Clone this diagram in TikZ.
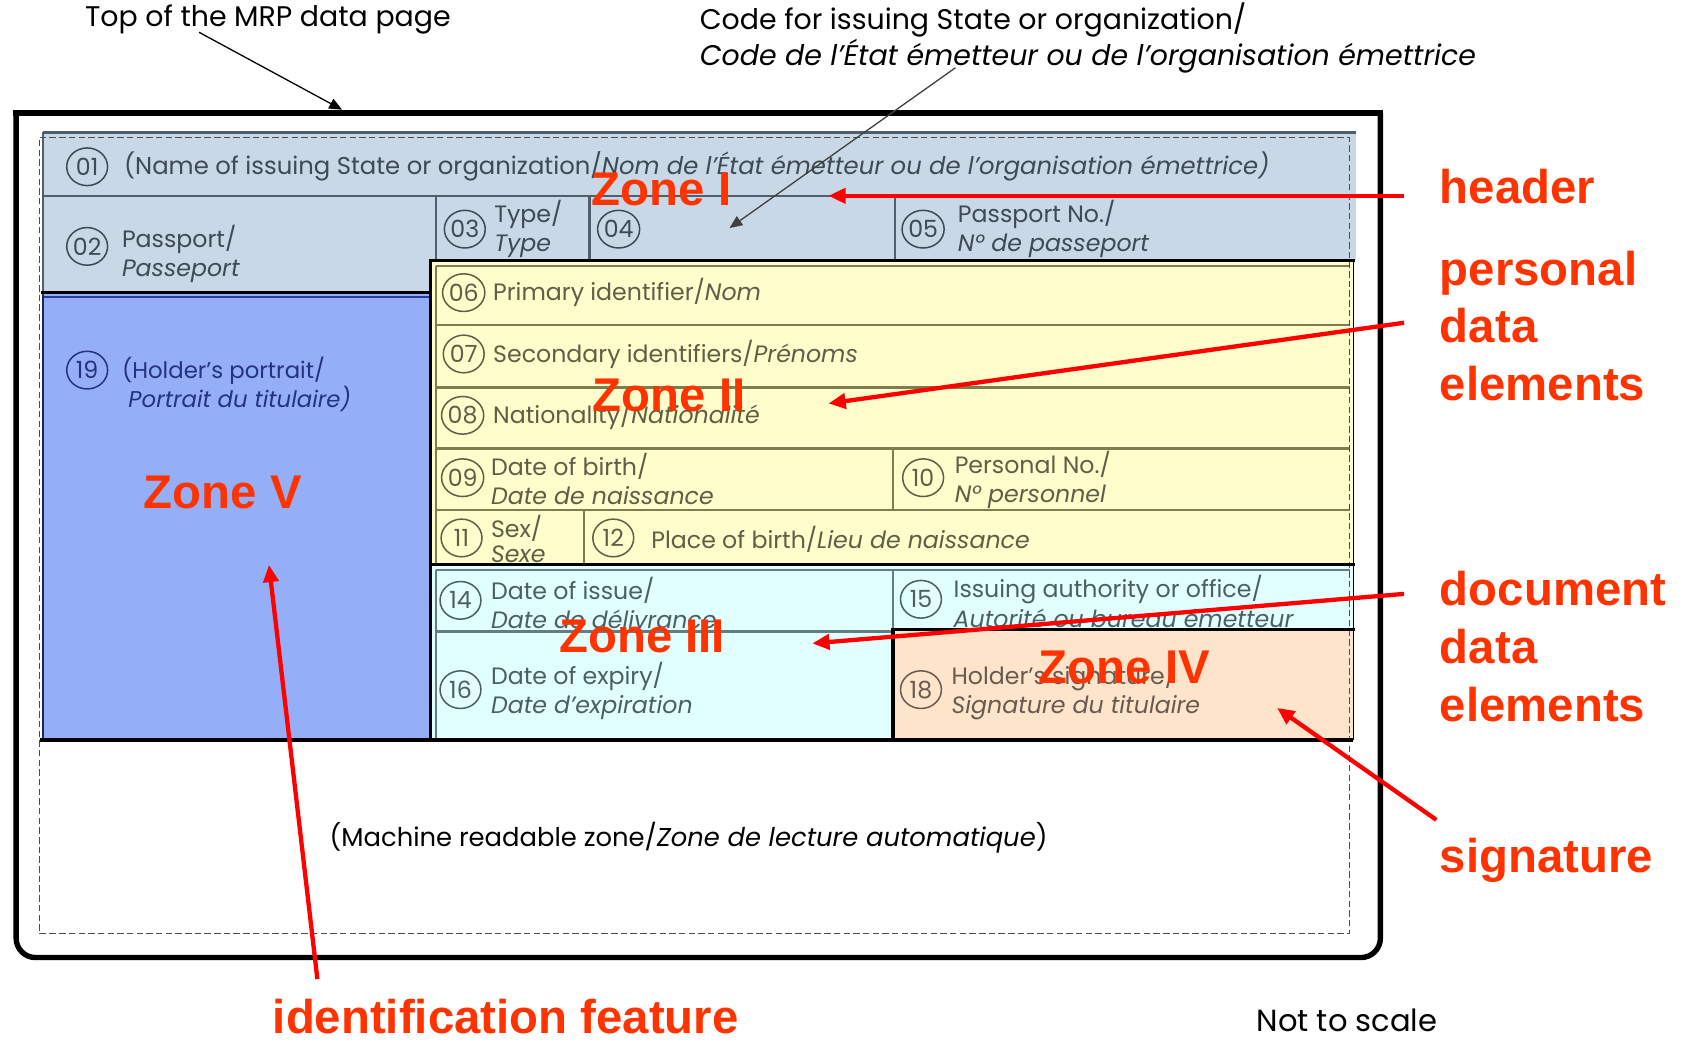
\documentclass[tikz,border=0pt]{standalone}
\usepackage{fontspec}
\usepackage{graphicx}
\setmainfont{Poppins}
\newfontfamily\redfont{Liberation Sans}
\usetikzlibrary{shapes.geometric,arrows.meta}
\definecolor{zred}{RGB}{255,51,0}
\definecolor{arrred}{RGB}{255,0,0}
\definecolor{zoneI}{RGB}{200,216,230}
\definecolor{zoneII}{RGB}{255,253,203}
\definecolor{zoneIII}{RGB}{226,255,255}
\definecolor{zoneIV}{RGB}{255,228,204}
\definecolor{zoneV}{RGB}{148,175,248}
\definecolor{tI}{RGB}{62,74,86}
\definecolor{tII}{RGB}{95,95,70}
\definecolor{tIII}{RGB}{75,95,100}
\definecolor{tIV}{RGB}{105,90,80}
\definecolor{tV}{RGB}{35,50,130}
\definecolor{lI}{RGB}{80,95,108}
\definecolor{lII}{RGB}{125,125,80}
\definecolor{lIII}{RGB}{100,125,128}
\definecolor{lV}{RGB}{40,60,160}
\begin{document}
\begin{tikzpicture}[x=0.5pt,y=-0.5pt,
  cell/.style={anchor=west,align=left,inner sep=0pt,font=\fontsize{11}{13.5}\selectfont},
  num/.style={draw,ellipse,minimum width=19pt,minimum height=17.5pt,inner sep=0pt,line width=0.7pt,font=\fontsize{11}{12}\selectfont},
  zonelbl/.style={text=zred,inner sep=0pt,font=\redfont\bfseries\fontsize{22}{24}\selectfont},
  redlbl/.style={text=zred,anchor=west,align=left,inner sep=0pt,font=\redfont\bfseries\fontsize{22}{26.75}\selectfont},
  redarrow/.style={draw=arrred,line width=2pt,-{Triangle[length=8pt,width=7pt]}},
  blkarrow/.style={line width=0.6pt,-{Triangle[length=6pt,width=5pt]}},
  note/.style={inner sep=0pt,font=\fontsize{13.2}{15}\selectfont},
  thinline/.style={line width=1.1pt},
  zoneline/.style={line width=1.5pt,black,line cap=rect}
]
\useasboundingbox (0,0) rectangle (1568,969);
% fills
\fill[zoneI] (40,123) rectangle (1260,242);
\fill[zoneI] (40,182) rectangle (405,272);
\fill[zoneV] (40,272) rectangle (400,688);
\fill[zoneII] (400,242) rectangle (1258,525);
\fill[zoneIII] (400,525) rectangle (1258,688);
\fill[zoneIV] (830,585) rectangle (1258,688);
% header lines
\draw[thinline,lI] (40,123) -- (1260,123);
\draw[thinline,lI] (40,182) -- (1258,182);
\draw[thinline,lI] (405,182) -- (405,242);
\draw[thinline,lI] (548,182) -- (548,242);
\draw[thinline,lI] (832,182) -- (832,242);
\draw[thinline,lI] (40,123) -- (40,272);
% zone II lines
\draw[thinline,lII] (405,247) -- (1255,247);
\draw[thinline,lII] (405,247) -- (405,525);
\draw[thinline,lII] (405,302) -- (1255,302);
\draw[thinline,lII] (405,360) -- (1255,360);
\draw[thinline,lII] (405,417) -- (1255,417);
\draw[thinline,lII] (405,474) -- (1255,474);
\draw[thinline,lII] (830,417) -- (830,474);
\draw[thinline,lII] (543,474) -- (543,525);
% zone III lines
\draw[thinline,lIII] (405,530) -- (1255,530);
\draw[thinline,lIII] (405,530) -- (405,688);
\draw[thinline,lIII] (405,587) -- (830,587);
\draw[thinline,lIII] (830,530) -- (830,688);
% zone V line
\draw[line width=1pt,lV] (40,276) -- (400,276);
\draw[line width=0.8pt,lV!60!black] (40,272) -- (40,688);
% dashed inner outline
\draw[line width=0.4pt,gray!60!black,dash pattern=on 3pt off 1.5pt] (37,128) -- (1254,128) -- (1254,868) -- (37,868) -- cycle;
% black zone boundaries
\draw[zoneline] (400,242) -- (1258,242);
\draw[zoneline] (400,242) -- (400,688);
\draw[zoneline] (40,272) -- (400,272);
\draw[zoneline] (400,525) -- (1258,525);
\draw[zoneline] (830,585) -- (1258,585);
\draw[zoneline] (830,585) -- (830,688);
\draw[line width=0.8pt] (1258,242) -- (1258,688);
\draw[line width=2pt] (37,688) -- (1258,688);
% outer border
\draw[line width=2.5pt,rounded corners=9pt] (15,105) -- (15,890) -- (1283,890) -- (1283,105);
\draw[line width=2.5pt,line cap=rect] (15,105) -- (1283,105);
% texts: header / zone I
\node[num,tI] (n01) at (81,155) {01};
\node[cell,text=tI,font=\fontsize{11.3}{13.5}\selectfont] (t01) at (115,155) {(Name of issuing State or organization/\textit{Nom de l’État émetteur ou de l’organisation émettrice)}};
\node[num,tI] (n02) at (81,229) {02};
\node[cell,text=tI] (t02) at (113,236) {Passport/\\\textit{Passeport}};
\node[num,tI] (n03) at (432,213) {03};
\node[cell,text=tI] (t03) at (459,213) {Type/\\\textit{Type}};
\node[num,tI] (n04) at (575,213) {04};
\node[num,tI] (n05) at (858,213) {05};
\node[cell,text=tI] (t05) at (890,213) {Passport No./\\\textit{N° de passeport}};
% zone II
\node[num,tII] (n06) at (431,272) {06};
\node[cell,text=tII] (t06) at (458,272) {Primary identifier/\textit{Nom}};
\node[num,tII] (n07) at (431,329) {07};
\node[cell,text=tII] (t07) at (458,329) {Secondary identifiers/\textit{Prénoms}};
\node[num,tII] (n08) at (430,386) {08};
\node[cell,text=tII] (t08) at (458,386) {Nationality/\textit{Nationalité}};
\node[num,tII] (n09) at (430,444) {09};
\node[cell,text=tII] (t09) at (456,445) {Date of birth/\\\textit{Date de naissance}};
\node[num,tII] (n10) at (858,444) {10};
\node[cell,text=tII] (t10) at (887,446) {Personal No./\\\textit{N° personnel}};
\node[num,tII] (n11) at (429,500) {11};
\node[cell,text=tII] (t11) at (456,501) {Sex/\\[-1.5pt]\textit{Sexe}};
\node[num,tII] (n12) at (570,500) {12};
\node[cell,text=tII] (t12) at (605,501) {Place of birth/\textit{Lieu de naissance}};
% zone III
\node[num,tIII] (n14) at (428,558) {14};
\node[cell,text=tIII] (t14) at (456,560) {Date of issue/\\\textit{Date de délivrance}};
\node[num,tIII] (n15) at (856,557) {15};
\node[cell,text=tIII] (t15) at (886,559) {Issuing authority or office/\\\textit{Autorité ou bureau émetteur}};
\node[num,tIII] (n16) at (428,641) {16};
\node[cell,text=tIII] (t16) at (456,642) {Date of expiry/\\\textit{Date d’expiration}};
% zone IV
\node[num,tIV] (n18) at (856,641) {18};
\node[cell,text=tIV] (t18) at (884,642) {Holder’s signature/\\\textit{Signature du titulaire}};
% zone V
\node[num,tV] (n19) at (81,344) {19};
\node[cell,text=tV,font=\fontsize{10.6}{13.5}\selectfont] (t19) at (113,357) {(Holder’s portrait/\\\hspace{3pt}\textit{Portrait du titulaire)}};
% MRZ
\node[cell,anchor=center,font=\fontsize{12}{14}\selectfont] (tmrz) at (640,779) {(Machine readable zone/\textit{Zone de lecture automatique})};
% notes
\node[note] (ttop) at (249,18) {Top of the MRP data page};
\node[note,anchor=west,align=left] (tcode) at (650,35) {Code for issuing State or organization/\\\textit{Code de l’État émetteur ou de l’organisation émettrice}};
\node[note,font=\fontsize{14.2}{16}\selectfont] (nts) at (1252,948) {Not to scale};
% zone labels
\node[zonelbl] (zI) at (615,176) {Zone I};
\node[zonelbl] (zII) at (622,368) {Zone II};
\node[zonelbl] (zIII) at (597,592) {Zone III};
\node[zonelbl] (zIV) at (1045,620) {Zone IV};
\node[zonelbl] (zV) at (207,458) {Zone V};
% red labels
\node[redlbl] (lh) at (1338,173) {header};
\node[redlbl] (lp) at (1338,303) {personal\\data\\elements};
\node[redlbl] (ld) at (1338,601) {document\\data\\elements};
\node[redlbl] (ls) at (1338,800) {signature};
\node[zonelbl] (li) at (470,945) {identification feature};
% black arrows
\coordinate (topA) at (185,30);
\coordinate (topB) at (318,102);
\draw[blkarrow] (topA) -- (topB);
\coordinate (codeA) at (888,63);
\coordinate (codeB) at (678,212);
\draw[blkarrow,draw=black!75,fill=black!75] (codeA) -- (codeB);
% red arrows
\coordinate (hA) at (1305,182);
\coordinate (hB) at (770,182);
\draw[redarrow] (hA) -- (hB);
\coordinate (pA) at (1305,300);
\coordinate (pB) at (770,375);
\draw[redarrow] (pA) -- (pB);
\coordinate (dA) at (1305,552);
\coordinate (dB) at (755,598);
\draw[redarrow] (dA) -- (dB);
\coordinate (sA) at (1335,762);
\coordinate (sB) at (1187,658);
\draw[redarrow] (sA) -- (sB);
\coordinate (iA) at (295,910);
\coordinate (iB) at (250,525);
\draw[redarrow] (iA) -- (iB);
\end{tikzpicture}
\end{document}
